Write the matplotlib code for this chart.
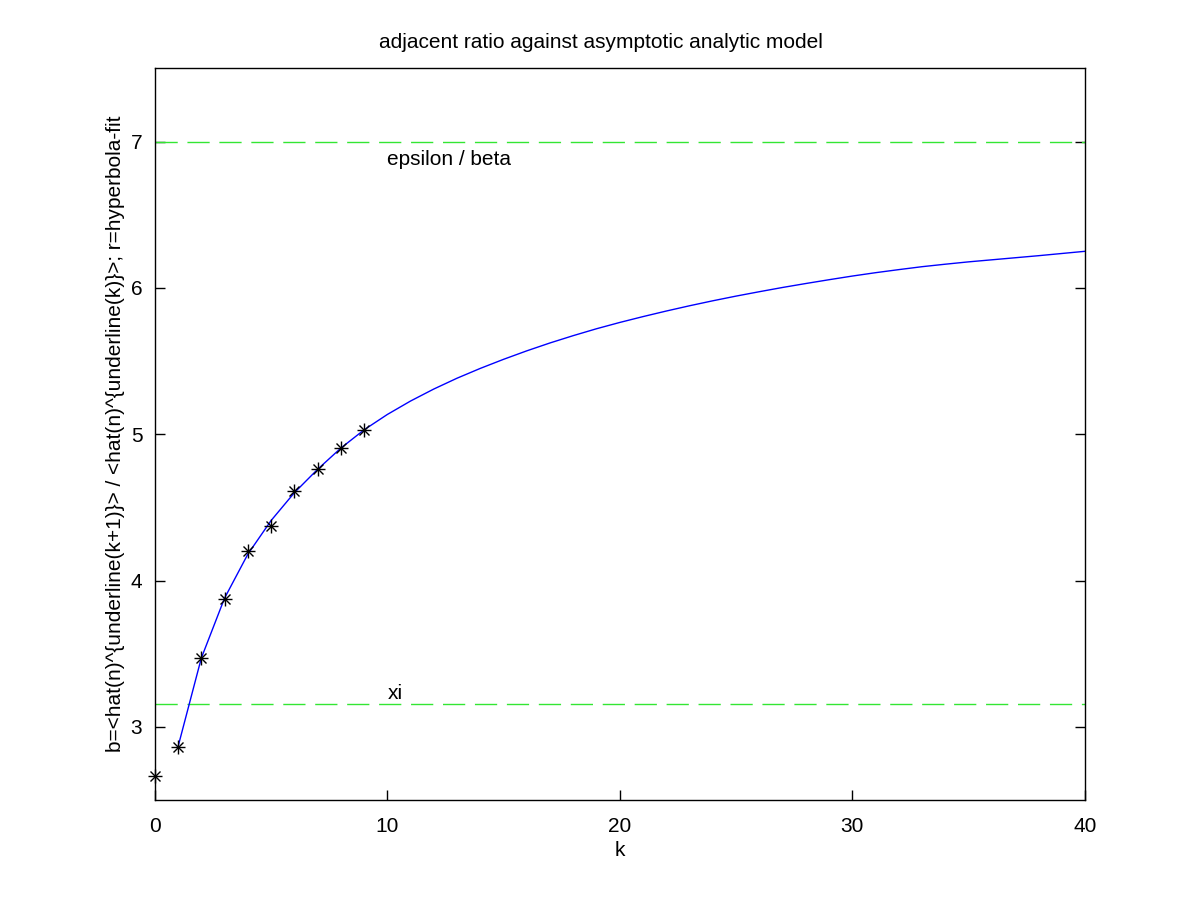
import matplotlib
matplotlib.use("Agg")
import matplotlib.pyplot as plt

# measured adjacent ratios b(k)
k_data = [0, 1, 2, 3, 4, 5, 6, 7, 8, 9]
b_data = [2.666, 2.865, 3.473, 3.876, 4.204, 4.372, 4.615, 4.763, 4.906, 5.030]

# hyperbola fit r(k) at each integer k
k_fit = list(range(1, 41))
r_fit = [2.865, 3.470, 3.880, 4.180, 4.410, 4.600, 4.760, 4.905, 5.030, 5.135,
         5.227, 5.309, 5.383, 5.450, 5.512, 5.570, 5.624, 5.674, 5.721, 5.764,
         5.804, 5.842, 5.878, 5.912, 5.944, 5.974, 6.003, 6.030, 6.056, 6.081,
         6.104, 6.125, 6.145, 6.162, 6.178, 6.192, 6.206, 6.220, 6.235, 6.250]

# asymptotes
eps_beta = 7.0
xi = 3.16

plt.rcParams['font.family'] = ['Liberation Sans', 'DejaVu Sans']
fs = 15

fig = plt.figure(figsize=(12, 9), dpi=100)
ax = fig.add_axes([0.129, 0.111, 0.775, 0.813])

ax.axhline(eps_beta, color=(0.2, 0.9, 0.2), lw=1, dashes=(16, 7))
ax.axhline(xi, color=(0.2, 0.9, 0.2), lw=1, dashes=(16, 7))
ax.plot(k_fit, r_fit, color='blue', lw=1)
ax.plot(k_data, b_data, ls='none', marker='+', ms=10, mew=1, color='black', clip_on=False)
ax.plot(k_data, b_data, ls='none', marker='x', ms=7, mew=1, color='black', clip_on=False)

ax.text(10, 6.88, 'epsilon / beta', fontsize=fs, va='center', ha='left')
ax.text(10, 3.23, 'xi', fontsize=fs, va='center', ha='left')

ax.set_xlim(0, 40)
ax.set_ylim(2.5, 7.5)
ax.set_xticks([0, 10, 20, 30, 40])
ax.set_yticks([3, 4, 5, 6, 7])
ax.tick_params(direction='in', length=7, width=1, top=False, right=True, labelsize=fs)
ax.tick_params(axis='x', pad=12)
ax.tick_params(axis='y', pad=9)
for s in ax.spines.values():
    s.set_linewidth(1)

ax.set_title('adjacent ratio against asymptotic analytic model', fontsize=fs, pad=15, x=0.48)
ax.set_xlabel('k', fontsize=fs, labelpad=4)
ax.set_ylabel('b=<hat(n)^{underline(k+1)}> / <hat(n)^{underline(k)}>; r=hyperbola-fit',
              fontsize=fs, labelpad=4)

fig.savefig('out.png', dpi=100)
